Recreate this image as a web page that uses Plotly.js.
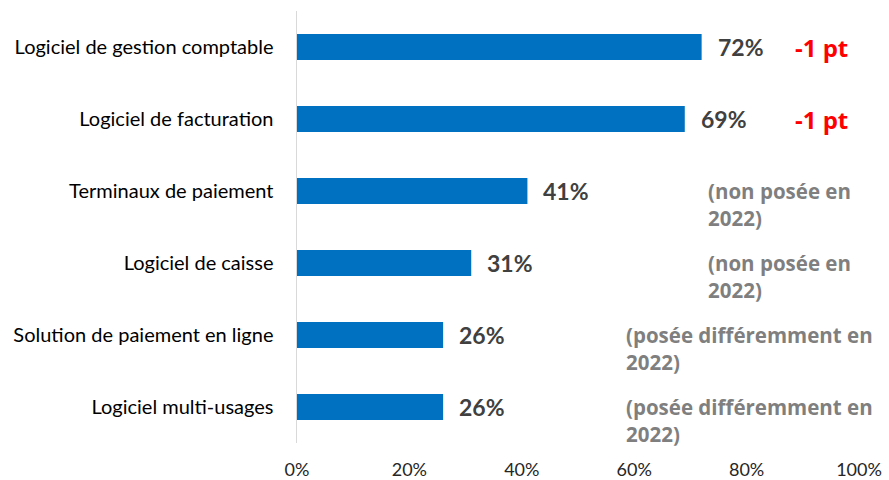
<!DOCTYPE html>
<html>
<head>
<meta charset="utf-8">
<script src="https://cdn.plot.ly/plotly-3.0.1.min.js"></script>
<style>html,body{margin:0;padding:0;background:#fff;}#chart{width:889px;height:480px;}</style>
</head>
<body>
<div id="chart"></div>
<script>
const categories = ["Logiciel de gestion comptable","Logiciel de facturation","Terminaux de paiement","Logiciel de caisse","Solution de paiement en ligne","Logiciel multi-usages"];
const values = [72, 69, 41, 31, 26, 26];
const valueLabels = ["72%","69%","41%","31%","26%","26%"];
const evolutions = ["-1 pt","-1 pt","","","",""];
const notes = ["","","(non posée en<br>2022)","(non posée en<br>2022)","(posée différemment en<br>2022)","(posée différemment en<br>2022)"];
const tickVals = [0,20,40,60,80,100];
const tickText = ["0%","20%","40%","60%","80%","100%"];

const annotations = [];
categories.forEach((c,i)=>{
  annotations.push({x: values[i], y: c, xref:'x', yref:'y', text: valueLabels[i], showarrow:false,
    xanchor:'left', yanchor:'middle', xshift: 14,
    font:{family:'Lato, sans-serif', size:23, color:'#404040', weight:'bold'}});
  if (evolutions[i]) annotations.push({x: 88.3, y: c, xref:'x', yref:'y', text: evolutions[i], showarrow:false,
    xanchor:'left', yanchor:'middle',
    font:{family:'Open Sans, sans-serif', size:24, color:'#ff0000', weight:'bold'}});
  if (notes[i]) {
    const nx = notes[i].startsWith('(non') ? 72.8 : 58.2;
    annotations.push({x: nx, y: c, xref:'x', yref:'y', text: notes[i], showarrow:false,
      xanchor:'left', yanchor:'middle', align:'left', yshift:-13,
      font:{family:'Open Sans, sans-serif', size:20.5, color:'#7f7f7f', weight:'bold'}});
  }
});

const data = [{
  type:'bar', orientation:'h', x: values, y: categories,
  marker:{color:'#0070c0'}, hoverinfo:'none'
}];

const layout = {
  width:889, height:480,
  margin:{l:297, r:30, t:11, b:37},
  paper_bgcolor:'#fff', plot_bgcolor:'#fff',
  bargap:0.64,
  showlegend:false,
  xaxis:{range:[0,100], tickvals:tickVals, ticktext:tickText, showgrid:false, zeroline:false,
    showline:false, ticks:'', fixedrange:true, ticklabelstandoff:14,
    tickfont:{family:'Lato, sans-serif', size:18, color:'#262626'}},
  yaxis:{autorange:'reversed', showgrid:false, zeroline:false, showline:true, linecolor:'#d9d9d9', linewidth:1.5,
    ticks:'', ticklabelstandoff:18, fixedrange:true,
    tickfont:{family:'Lato, sans-serif', size:20, color:'#000'}},
  annotations: annotations
};

Plotly.newPlot('chart', data, layout, {displayModeBar:false, staticPlot:true});
</script>
</body>
</html>
